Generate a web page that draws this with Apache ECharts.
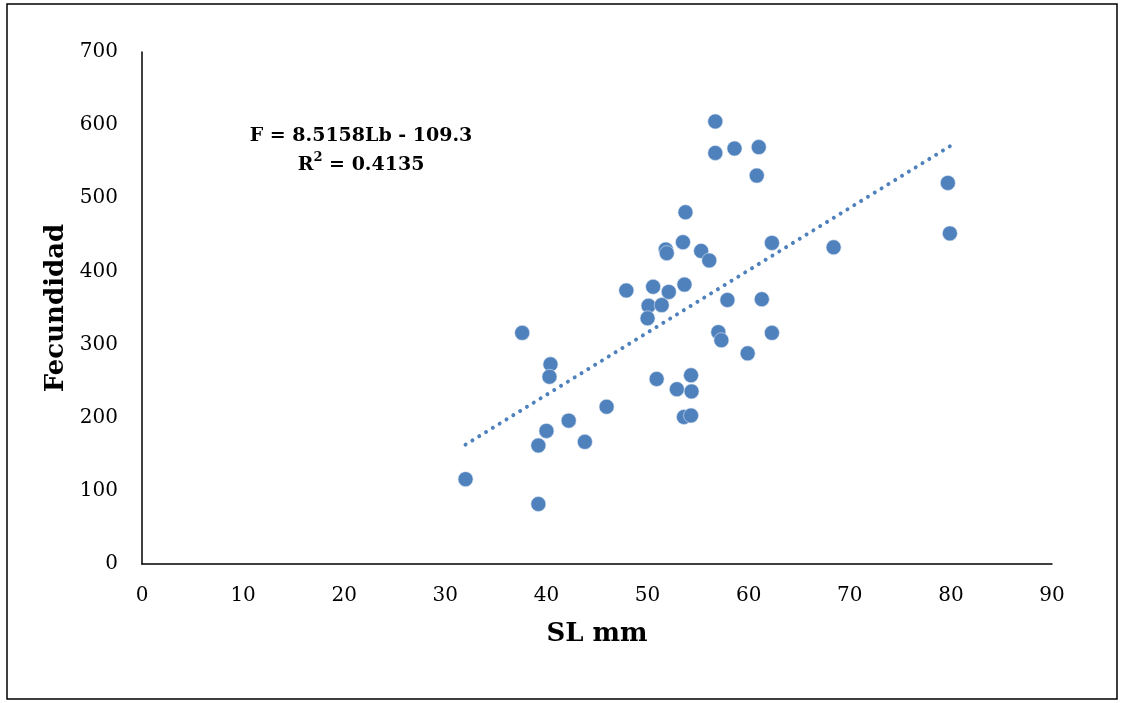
<!DOCTYPE html>
<html>
<head>
<meta charset="utf-8">
<script src="https://cdn.jsdelivr.net/npm/echarts@6/dist/echarts.min.js"></script>
<style>html,body{margin:0;padding:0;background:#fff}#c{width:1124px;height:703px}</style>
</head>
<body>
<div id="c"></div>
<script>
// Data
const slValues = [56.7, 56.7, 58.6, 61.0, 60.8, 53.75, 53.5, 51.8, 51.9, 55.3, 56.1, 62.3,
  47.9, 50.55, 52.1, 53.65, 50.1, 51.4, 50.0, 57.9, 61.3, 37.6, 57.0, 57.3, 62.3, 59.9,
  40.4, 40.3, 50.9, 52.9, 54.3, 54.35, 53.6, 54.3, 45.95, 42.2, 40.0, 39.2, 43.8, 32.0, 39.2,
  79.7, 79.9, 68.4];
const fecValues = [605, 562, 568, 570, 531, 481, 440, 430, 425, 428, 415, 439,
  374, 379, 372, 382, 353, 354, 336, 361, 362, 316, 317, 306, 316, 288,
  273, 256, 253, 239, 258, 236, 201, 203, 215, 196, 182, 162, 167, 116, 82,
  521, 452, 433];
const trendX = [32.0, 79.9];
const trendY = [163.2, 571.1];
const xTicks = [0, 10, 20, 30, 40, 50, 60, 70, 80, 90];
const yTicks = [0, 100, 200, 300, 400, 500, 600, 700];
const equationText = 'F = 8.5158Lb - 109.3';
const r2Text = '0.4135';

const points = slValues.map((v, i) => [v, fecValues[i]]);
const trend = trendX.map((v, i) => [v, trendY[i]]);

const chart = echarts.init(document.getElementById('c'), null, {renderer: 'canvas'});
const serif = 'DejaVu Serif';
const eqStyle = {fontFamily: serif, fontWeight: 'bold', fontSize: 19, fill: '#000', lineHeight: 29, align: 'center'};
chart.setOption({
  backgroundColor: '#fff',
  animation: false,
  grid: {left: 142, right: 72, top: 52, bottom: 139, containLabel: false},
  xAxis: {
    type: 'value', min: xTicks[0], max: xTicks[xTicks.length - 1], interval: 10,
    name: 'SL mm', nameLocation: 'middle', nameGap: 57,
    nameTextStyle: {fontFamily: serif, fontWeight: 'bold', fontSize: 26, color: '#000'},
    axisLine: {show: true, lineStyle: {color: '#000', width: 1.5}},
    axisTick: {show: false}, splitLine: {show: false},
    axisLabel: {fontFamily: serif, fontSize: 20, color: '#000', margin: 22}
  },
  yAxis: {
    type: 'value', min: yTicks[0], max: yTicks[yTicks.length - 1], interval: 100,
    name: 'Fecundidad', nameLocation: 'middle', nameGap: 73, nameRotate: 90,
    nameTextStyle: {fontFamily: serif, fontWeight: 'bold', fontSize: 26, color: '#000'},
    axisLine: {show: true, lineStyle: {color: '#000', width: 1.5}},
    axisTick: {show: false}, splitLine: {show: false},
    axisLabel: {fontFamily: serif, fontSize: 20, color: '#000', margin: 24}
  },
  series: [
    {
      type: 'line', data: trend, symbol: 'none', z: 1,
      lineStyle: {color: '#4F81BD', width: 4, type: [0.01, 8], cap: 'round'}
    },
    {
      type: 'scatter', data: points, symbolSize: 15, z: 2,
      itemStyle: {color: '#4F81BD', borderColor: '#dce6f2', borderWidth: 0.6, opacity: 1}
    }
  ],
  graphic: [
    {type: 'rect', shape: {x: 7, y: 4, width: 1110, height: 695},
     style: {fill: 'none', stroke: '#000', lineWidth: 1.5}, z: -1, silent: true},
    {type: 'text', x: 361, y: 122,
     style: {
       text: '{a|' + equationText + '}\n{b|R}{s|2}{b| = ' + r2Text + '}',
       align: 'center', verticalAlign: 'top',
       rich: {
         a: eqStyle,
         b: eqStyle,
         s: {fontFamily: serif, fontWeight: 'bold', fontSize: 13, fill: '#000', lineHeight: 29, align: 'center', verticalAlign: 'top', padding: [0, 0, 8, 0]}
       }
     }}
  ]
});
</script>
</body>
</html>
